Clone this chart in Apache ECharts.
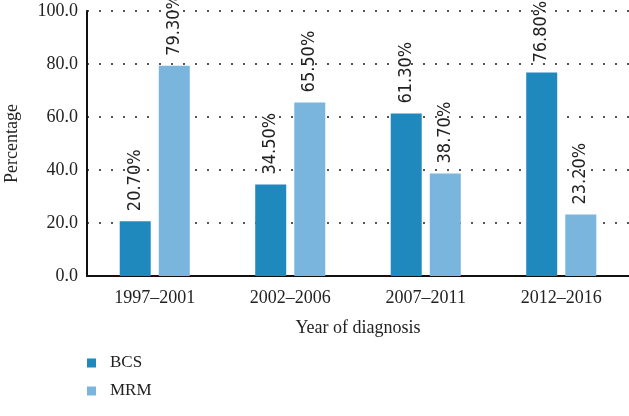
<!DOCTYPE html>
<html>
<head>
<meta charset="utf-8">
<script src="https://cdn.jsdelivr.net/npm/echarts@6/dist/echarts.min.js"></script>
<style>html,body{margin:0;padding:0;background:#fff}#c{width:629px;height:416px}</style>
</head>
<body>
<div id="c"></div>
<script>
var categories = ['1997\u20132001', '2002\u20132006', '2007\u20132011', '2012\u20132016'];
var bcsValues = [20.7, 34.5, 61.3, 76.8];
var mrmValues = [79.3, 65.5, 38.7, 23.2];
var seriesNames = ['BCS', 'MRM'];

var serif = '"Liberation Serif", "Times New Roman", serif';
var chart = echarts.init(document.getElementById('c'), null, {renderer: 'canvas'});
var labelOpt = {
  show: true,
  position: 'top',
  rotate: 90,
  align: 'left',
  verticalAlign: 'middle',
  distance: 10,
  fontFamily: '"Liberation Sans Narrow", "DejaVu Sans Condensed", sans-serif',
  fontSize: 18,
  color: '#222',
  formatter: function (p) { return p.value.toFixed(2) + '%'; }
};
chart.setOption({
  animation: false,
  grid: {left: 87, right: 0, top: 11, bottom: 140, containLabel: false, outerBoundsMode: 'none'},
  legend: {
    orient: 'vertical', left: 87, top: 353, itemWidth: 9, itemHeight: 9, itemGap: 8,
    padding: 0,
    icon: 'rect',
    textStyle: {fontFamily: serif, fontSize: 17, color: '#222', padding: [0, 0, 0, 9], lineHeight: 20},
    data: seriesNames
  },
  xAxis: {
    type: 'category', data: categories,
    name: 'Year of diagnosis', nameLocation: 'middle', nameGap: 43,
    nameTextStyle: {fontFamily: serif, fontSize: 18, color: '#222'},
    axisLine: {lineStyle: {color: '#111', width: 2}},
    axisTick: {show: false},
    axisLabel: {fontFamily: serif, fontSize: 18, color: '#222', margin: 13}
  },
  yAxis: {
    type: 'value', min: 0, max: 100, interval: 20,
    name: 'Percentage', nameLocation: 'middle', nameGap: 66,
    nameTextStyle: {fontFamily: serif, fontSize: 18, color: '#222'},
    axisLine: {show: true, lineStyle: {color: '#111', width: 2}},
    axisTick: {show: false},
    axisLabel: {fontFamily: serif, fontSize: 18, color: '#222', margin: 9, formatter: function (v) { return v.toFixed(1); }},
    splitLine: {lineStyle: {color: '#555', width: 2, type: [2, 10]}}
  },
  series: [
    {name: seriesNames[0], type: 'bar', data: bcsValues, barWidth: 31, barGap: '26%', itemStyle: {color: '#1f88bd'}, label: labelOpt},
    {name: seriesNames[1], type: 'bar', data: mrmValues, barWidth: 31, barGap: '26%', itemStyle: {color: '#7ab5de'}, label: labelOpt}
  ]
});
</script>
</body>
</html>
